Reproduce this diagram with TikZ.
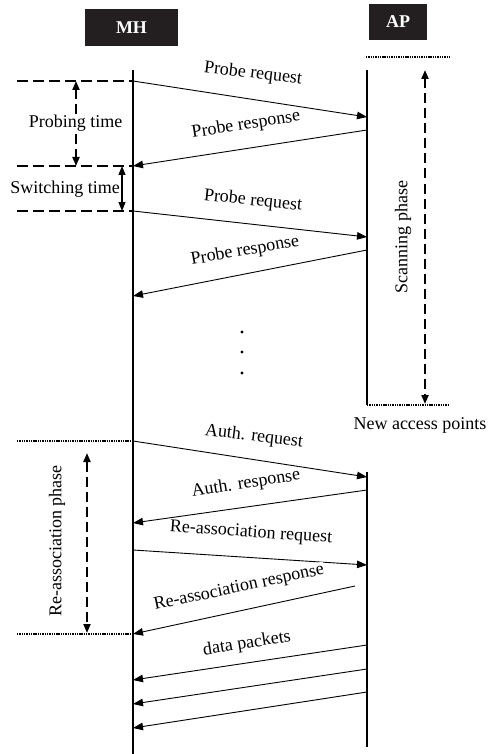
\documentclass[tikz,border=0pt]{standalone}
\usepackage{fontspec}
\setmainfont{Liberation Serif}
\usetikzlibrary{arrows.meta}
\definecolor{hdr}{HTML}{231F20}
\begin{document}
\begin{tikzpicture}[x=1pt,y=-1pt,
  every node/.style={font=\fontsize{18}{20}\selectfont, inner sep=0.5pt},
  header/.style={fill=hdr, text=white, inner sep=0pt,
    font=\bfseries\fontsize{18}{20}\selectfont},
  lifeline/.style={line width=1.4pt},
  msg/.style={line width=0.9pt, -{Triangle[length=10pt,width=7.5pt]}},
  lbl/.style={fill=white},
  bardash/.style={line width=2pt, dash pattern=on 11pt off 5pt},
  bardot/.style={line width=2pt, dash pattern=on 1.4pt off 0.9pt},
  phase/.style={line width=2pt, dash pattern=on 10pt off 5pt,
    {Triangle[length=9pt,width=7pt]}-{Triangle[length=9pt,width=7pt]}},
  span/.style={line width=1.1pt,
    {Triangle[length=9pt,width=7pt]}-{Triangle[length=9pt,width=7pt]}}
]
\useasboundingbox (0,0) rectangle (488,754);

% entity headers
\node[header, minimum width=93pt, minimum height=37pt] (mh) at (131.5,27.5) {MH};
\node[header, minimum width=58pt, minimum height=36pt] (ap) at (398,22) {AP};

% lifelines
\coordinate (mhTop) at (133,70);
\coordinate (mhBot) at (133,754);
\coordinate (apTop) at (367,70);
\coordinate (apMid) at (367,405);
\coordinate (apTop2) at (367,472);
\coordinate (apBot) at (367,747);
\draw[lifeline] (mhTop) -- (mhBot);
\draw[lifeline] (apTop) -- (apMid);
\draw[lifeline] (apTop2) -- (apBot);

% message end points
\coordinate (m1a) at (133,81);  \coordinate (m1b) at (367,117);
\coordinate (m2a) at (367,130); \coordinate (m2b) at (133,166);
\coordinate (m3a) at (133,211); \coordinate (m3b) at (367,237);
\coordinate (m4a) at (367,250); \coordinate (m4b) at (133,296);
\coordinate (m5a) at (133,441); \coordinate (m5b) at (367,477);
\coordinate (m6a) at (367,490); \coordinate (m6b) at (133,523);
\coordinate (m7a) at (133,550); \coordinate (m7b) at (367,565);
\coordinate (m8a) at (355,586); \coordinate (m8b) at (133,634);
\coordinate (m9a) at (367,645); \coordinate (m9b) at (133,680);
\coordinate (m10a) at (367,669); \coordinate (m10b) at (133,704);
\coordinate (m11a) at (367,692); \coordinate (m11b) at (133,728);

\foreach \m in {1,...,11} {
  \draw[msg] (m\m a) -- (m\m b);
}

% message labels
\node[lbl, rotate=-7] (l1) at (253,74) {Probe request};
\node[lbl, rotate=9] (l2) at (246,125) {Probe response};
\node[lbl, rotate=-6] (l3) at (253,201) {Probe request};
\node[lbl, rotate=10] (l4) at (245,251) {Probe response};
\node[lbl, rotate=-7] (l5) at (254,437) {Auth. request};
\node[lbl, rotate=9] (l6) at (246,484) {Auth. response};
\node[lbl, rotate=-4] (l7) at (251,533) {Re-association request};
\node[lbl, rotate=12] (l8) at (239,588) {Re-association response};
\node[lbl, rotate=9] (l9) at (247,644) {data packets};

% further probing rounds
\foreach \y in {332,352,373}
  \fill (242,\y) circle (1.6pt);

% probing / switching time marks
\coordinate (p1) at (17,81);
\coordinate (p2) at (17,166);
\coordinate (p3) at (17,211);
\draw[bardash] (p1) -- (m1a);
\draw[bardash] (p2) -- (m2b);
\draw[bardash] (p3) -- (m3a);
\coordinate (pt1) at (76,81);
\coordinate (pt2) at (76,166);
\draw[phase] (pt1) -- (pt2);
\node[fill=white, inner sep=1pt] (probing) at (75.5,123) {Probing time};
\coordinate (st1) at (122,166);
\coordinate (st2) at (122,211);
\draw[span] (st1) -- (st2);
\node (switching) at (65,189) {Switching time};

% scanning phase
\coordinate (s1) at (366,57);
\coordinate (s2) at (449,57);
\coordinate (s3) at (448,405);
\draw[bardot] (s1) -- (s2);
\draw[bardot] (apMid) -- (s3);
\coordinate (sa1) at (425,70);
\coordinate (sa2) at (425,404);
\draw[phase] (sa1) -- (sa2);
\node[rotate=90] (scan) at (403,237) {Scanning phase};
\node (newap) at (420,425) {New access points};

% re-association phase
\coordinate (r1) at (17,441);
\coordinate (r2) at (17,634);
\draw[bardot] (r1) -- (m5a);
\draw[bardot] (r2) -- (m8b);
\coordinate (ra1) at (87,453);
\coordinate (ra2) at (87,633);
\draw[phase] (ra1) -- (ra2);
\node[rotate=90] (reassoc) at (57,541) {Re-association phase};
\end{tikzpicture}
\end{document}
